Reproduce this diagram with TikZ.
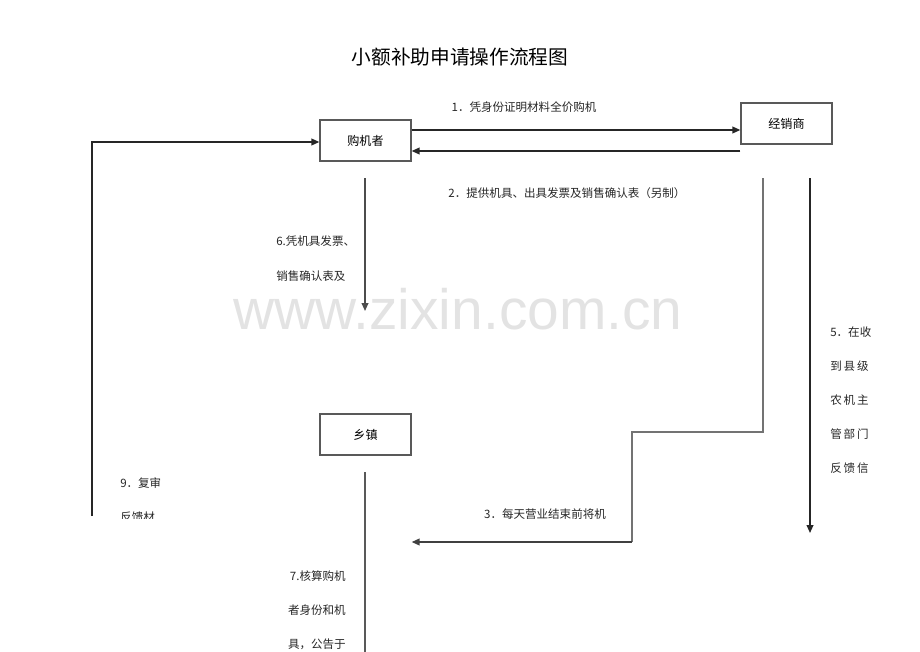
\documentclass[tikz,border=0pt]{standalone}
\usepackage{fontspec}
\setmainfont{Liberation Serif}
\newfontfamily\cjk{Noto Sans CJK SC}
\newfontfamily\wmfont{Liberation Sans}
\usetikzlibrary{arrows.meta}
\tikzset{
  box/.style={draw=black!65,line width=0.9pt,minimum width=2.275cm,minimum height=1.025cm,inner sep=0pt,font=\cjk\fontsize{8.6}{10}\selectfont},
  lbl/.style={inner sep=0pt,font=\cjk\fontsize{8.2}{9}\selectfont,text=black!85},
  arr/.style={draw=black!85,line width=1pt,-{Triangle[length=2mm,width=1.7mm]}},
  ln/.style={draw=black!55,line width=1pt}
}
\begin{document}
\begin{tikzpicture}[x=0.025cm,y=-0.025cm]
		\useasboundingbox (0,0) rectangle (920,651);
		\clip (0,0) rectangle (920,651);
		% watermark
		\node[inner sep=0pt,text=black!11,font=\wmfont\fontsize{40.5}{40}\selectfont] (mark) at (458,309) {www.zixin.com.cn};
		% title
		\node[inner sep=0pt,font=\cjk\fontsize{14}{16}\selectfont] (title) at (460,57) {小额补助申请操作流程图};
		% boxes
		\node[box] (buyer) at (365.5,140.5) {购机者};
		\node[box] (dealer) at (786.5,123.5) {经销商};
		\node[box] (town) at (365.5,434.5) {乡镇};
		% free ends
		\coordinate (d1) at (763,178);
		\coordinate (d2) at (810,178);
		\coordinate (b1) at (365,178);
		\coordinate (b2) at (365,311);
		\coordinate (t1) at (365,472);
		\coordinate (t2) at (365,660);
		\coordinate (s1) at (632,432);
		\coordinate (s2) at (632,542);
		\coordinate (e5) at (810,533);
		\coordinate (l9) at (92,516);
		% connectors
		\draw[arr] (buyer.east |- 0,130) -- (dealer.west |- 0,130);
		\draw[arr] (dealer.west |- 0,151) -- (buyer.east |- 0,151);
		\draw[arr] (l9) |- (buyer.west |- 0,142);
		\draw[arr,draw=black!70] (b1) -- (b2);
		\draw[ln] (d1) |- (s1) -- (s2);
		\draw[arr,draw=black!75] (s2) -- (town.east |- s2);
		\draw[arr] (d2) -- (e5);
		\draw[arr,draw=black!65] (t1) -- (t2);
		% labels
		\node[lbl] (n1) at (524,107) {1．凭身份证明材料全价购机};
		\node[lbl] (n2) at (567,193) {2．提供机具、出具发票及销售确认表（另制）};
		\node[lbl,anchor=west] (n6a) at (276,241) {6.凭机具发票、};
		\node[lbl,anchor=west] (n6b) at (276,276) {销售确认表及};
		\node[lbl] (n3) at (545,514) {3．每天营业结束前将机};
		\node[lbl,anchor=west] (n5a) at (830,332) {5．在收};
		\node[lbl,anchor=west] (n5b) at (830,366) {到\,县\,级};
		\node[lbl,anchor=west] (n5c) at (830,400) {农\,机\,主};
		\node[lbl,anchor=west] (n5d) at (830,434) {管\,部\,门};
		\node[lbl,anchor=west] (n5e) at (830,468) {反\,馈\,信};
		\node[lbl,anchor=east] (n7a) at (346,576) {7.核算购机};
		\node[lbl,anchor=east] (n7b) at (346,610) {者身份和机};
		\node[lbl,anchor=east] (n7c) at (346,644) {具，公告于};
		\node[lbl,anchor=west] (n9a) at (120,483) {9．复审};
		\begin{scope}
			\clip (100,470) rectangle (220,518);
			\node[lbl,anchor=west] (n9b) at (120,517) {反馈材};
		\end{scope}
	\end{tikzpicture}
\end{document}
